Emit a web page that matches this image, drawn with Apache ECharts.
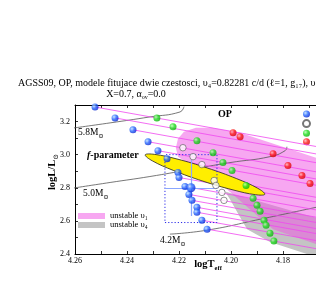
<!DOCTYPE html>
<html><head><meta charset="utf-8">
<script src="https://cdn.jsdelivr.net/npm/echarts/dist/echarts.min.js"></script>
<style>html,body{margin:0;padding:0;background:#fff;overflow:hidden}#c{width:316px;height:289px}</style>
</head><body><div id="c"></div>
<script>
// ---- data (logTeff, logL/Lsun) ----
const blueModels = [[4.2523,3.288],[4.2446,3.222],[4.2377,3.150],[4.2319,3.078],[4.2281,3.024],[4.2246,2.976],[4.2204,2.892],[4.2200,2.862],[4.2177,2.808],[4.2162,2.760],[4.2150,2.724],[4.2131,2.682],[4.2131,2.652],[4.2112,2.604],[4.2092,2.550]];
const openModels = [[4.2185,3.042],[4.2146,2.988],[4.2112,2.940],[4.2065,2.844],[4.2058,2.814],[4.2035,2.772],[4.2027,2.724]];
const greenModels = [[4.2285,3.222],[4.2223,3.168],[4.2131,3.084],[4.2069,3.012],[4.2031,2.952],[4.1996,2.904],[4.1942,2.814],[4.1915,2.736],[4.1900,2.694],[4.1888,2.658],[4.1873,2.604],[4.1865,2.574],[4.1850,2.526],[4.1835,2.478]];
const redModels = [[4.1992,3.132],[4.1965,3.108],[4.1838,3.006],[4.1781,2.934],[4.1727,2.874],[4.1696,2.826]];
const observedStar = [[4.2154,2.80]];
const errBoxT = [4.2254,4.2054];
const errBoxL = [2.59,3.00];
const errBarL = [2.63,2.97];
const pinkLines = [
 [4.2523,3.288,4.16,3.029],[4.2446,3.222,4.16,2.984],[4.2377,3.150,4.16,2.931],[4.2319,3.078,4.16,2.876],
 [4.2281,3.024,4.16,2.833],[4.2246,2.976,4.16,2.795],[4.2204,2.892,4.16,2.722],[4.2200,2.862,4.16,2.694],
 [4.2177,2.808,4.16,2.646],[4.2162,2.760,4.16,2.602],[4.2150,2.724,4.16,2.570],[4.2131,2.682,4.16,2.533],
 [4.2131,2.652,4.16,2.503],[4.2112,2.604,4.16,2.461],[4.2092,2.550,4.16,2.412]];
const track58 = [[4.262,3.158],[4.2465,3.192],[4.2312,3.228],[4.2196,3.258],[4.2181,3.290]];
const track50 = [[4.262,2.795],[4.2465,2.832],[4.2312,2.868],[4.2158,2.910],[4.2004,2.952],[4.1850,2.988],[4.1792,3.024],[4.1785,3.048]];
const track42 = [[4.2235,2.520],[4.2092,2.544],[4.1888,2.610],[4.1673,2.682],[4.1600,2.706]];
const unstableNu1 = [[4.2204,2.988],[4.2212,3.042],[4.2204,3.096],[4.2181,3.138],[4.2135,3.162],[4.2073,3.162],[4.1965,3.132],[4.1673,2.982],[4.16,2.952],[4.16,2.418],[4.1673,2.460],[4.1838,2.550],[4.1927,2.670],[4.2015,2.790],[4.2100,2.880],[4.2158,2.940]];
const unstableNu4 = [[4.2023,2.778],[4.2004,2.730],[4.1965,2.622],[4.1938,2.550],[4.1850,2.472],[4.1708,2.400],[4.16,2.400],[4.16,2.586]];
const fParamEllipse = [[4.1870,2.761],[4.1905,2.758],[4.1992,2.787],[4.2108,2.840],[4.2222,2.905],[4.2303,2.963],[4.2330,2.999],[4.2295,3.002],[4.2208,2.974],[4.2092,2.920],[4.1978,2.855],[4.1897,2.797]];

const SERIF = "'Liberation Serif','DejaVu Serif',serif";
const chart = echarts.init(document.getElementById('c'), null, {renderer:'canvas'});

function poly(name, pts, fill, stroke, z, smooth){
  return {type:'custom', name, coordinateSystem:'cartesian2d', z, silent:true, clip:true,
    itemStyle:{color:fill}, data:[pts[0]],
    renderItem:(p, api)=>({type:'polygon', shape:{points: pts.map(q=>api.coord(q)), smooth: smooth||0},
      style:{fill:fill, stroke:stroke||null, lineWidth: stroke?0.8:0}})};
}
function ball(c1,c2,c3){return new echarts.graphic.RadialGradient(0.35,0.35,0.75,[{offset:0,color:c1},{offset:0.45,color:c2},{offset:1,color:c3}]);}
function track(d){return {type:'line', data:d, smooth:true, showSymbol:false, silent:true, z:4, lineStyle:{color:'#555', width:0.8}};}
const sub = {fontFamily:SERIF, fontSize:6.5, lineHeight:7, padding:[6,0,0,0], verticalAlign:'top', fill:'#000'};
const tick = {inside:true, length:3, lineStyle:{color:'#000', width:0.8}};
const minor = {show:true, splitNumber:2, length:3, lineStyle:{color:'#000', width:0.8}};

const option = {
  animation:false,
  backgroundColor:'#fff',
  grid:{left:75, top:105, width:260, height:149, containLabel:false, outerBoundsMode:'none'},
  xAxis:[{type:'value', inverse:true, min:4.16, max:4.26, interval:0.02,
    axisLine:{lineStyle:{color:'#000', width:1}}, axisTick:tick, minorTick:minor,
    axisLabel:{margin:3, fontFamily:SERIF, fontSize:8, color:'#000', formatter:v=>v.toFixed(2)},
    splitLine:{show:false}, minorSplitLine:{show:false}},
   {type:'value', position:'top', inverse:true, min:4.16, max:4.26, interval:0.02,
    axisLine:{lineStyle:{color:'#000', width:1}}, axisTick:tick, minorTick:minor,
    axisLabel:{show:false}, splitLine:{show:false}}],
  yAxis:{type:'value', min:2.4, max:3.3, interval:0.2,
    axisLine:{lineStyle:{color:'#000', width:1}}, axisTick:tick, minorTick:minor,
    axisLabel:{showMaxLabel:false, margin:5, fontFamily:SERIF, fontSize:8, color:'#000', formatter:v=>v.toFixed(1)},
    splitLine:{show:false}},
  legend:[
    {data:['niebieskie','puste','zielone','czerwone'], orient:'vertical', left:302, top:110.5, icon:'circle',
     itemWidth:7, itemHeight:7, itemGap:1.6, formatter:()=>'', textStyle:{fontSize:6, lineHeight:7}, selectedMode:false, padding:0},
    {data:['unstable υ₁','unstable υ₄'], orient:'vertical', left:78, top:211.5, icon:'rect', padding:0,
     itemWidth:27, itemHeight:6, itemGap:0, selectedMode:false,
     textStyle:{fontFamily:SERIF, fontSize:8.5, lineHeight:7, color:'#000'}}
  ],
  series:[
    poly('unstable υ₄', unstableNu4, '#c4c4c4', null, 1),
    poly('unstable υ₁', unstableNu1, 'rgba(240,80,228,0.5)', null, 2),
    track(track58), track(track50), track(track42),
    {type:'lines', coordinateSystem:'cartesian2d', z:5, silent:true,
     data: pinkLines.map(l=>({coords:[[l[0],l[1]],[l[2],l[3]]]})),
     lineStyle:{color:'#f048f0', width:0.8, opacity:1}},
    poly('f-parameter', fParamEllipse, '#ffee00', '#222', 6, 0.4),
    {type:'lines', coordinateSystem:'cartesian2d', z:7, silent:true, polyline:true,
     data:[{coords:[[errBoxT[0],errBoxL[0]],[errBoxT[1],errBoxL[0]],[errBoxT[1],errBoxL[1]],[errBoxT[0],errBoxL[1]],[errBoxT[0],errBoxL[0]]]}],
     lineStyle:{color:'#2a2ae8', width:1, type:[1.2,2], opacity:1}},
    {type:'lines', coordinateSystem:'cartesian2d', z:7, silent:true,
     data:[{coords:[[errBoxT[0],observedStar[0][1]],[errBoxT[1],observedStar[0][1]]]},{coords:[[observedStar[0][0],errBarL[0]],[observedStar[0][0],errBarL[1]]]}],
     lineStyle:{color:'#8aa6ff', width:1.2, opacity:1}},
    {type:'scatter', name:'niebieskie', data:blueModels, symbolSize:7, z:8, itemStyle:{color:ball('#bfe0ff','#2a6cff','#0018c8')}},
    {type:'scatter', name:'puste', data:openModels, symbolSize:6.5, z:8, itemStyle:{color:'#fff', borderColor:'#555', borderWidth:0.8}},
    {type:'scatter', name:'zielone', data:greenModels, symbolSize:7, z:8, itemStyle:{color:ball('#b8ffb0','#22e022','#08a808')}},
    {type:'scatter', name:'czerwone', data:redModels, symbolSize:7, z:8, itemStyle:{color:ball('#ffb8b8','#ff1a1a','#c80000')}},
    {type:'scatter', name:'gwiazda', data:observedStar, symbolSize:9, z:9, itemStyle:{color:ball('#bfe0ff','#2a6cff','#0018c8')}}
  ],
  graphic:[
    {type:'text', x:18, y:83, style:{text:'AGSS09, OP, modele fitujace dwie czestosci, υ₄=0.82281 c/d (ℓ=1, g₁₇), υ₁', verticalAlign:'middle', font:'10px '+SERIF, fill:'#000'}},
    {type:'text', x:136, y:89, style:{text:'{n|X=0.7, α}{s|ov}{n|=0.0}', align:'center', rich:{n:{fontFamily:SERIF, fontSize:10, lineHeight:9, verticalAlign:'top', fill:'#000'}, s:{fontFamily:SERIF, fontSize:6, lineHeight:6, padding:[5,0,0,0], verticalAlign:'top', fill:'#000'}}}},
    {type:'text', x:225, y:109, style:{text:'OP', align:'center', font:'bold 10px '+SERIF, fill:'#000'}},
    {type:'text', x:87, y:150, style:{text:'{i|f}{b|-parameter}', rich:{i:{fontFamily:SERIF, fontStyle:'italic', fontWeight:'bold', fontSize:10, fill:'#000'}, b:{fontFamily:SERIF, fontWeight:'bold', fontSize:10, fill:'#000'}}}},
    {type:'text', x:78, y:127, style:{text:'{m|5.8M}{s|⊙}', rich:{m:{fontFamily:SERIF, fontSize:9.5, lineHeight:10, verticalAlign:'top', fill:'#000'}, s:sub}}},
    {type:'text', x:83, y:188, style:{text:'{m|5.0M}{s|⊙}', rich:{m:{fontFamily:SERIF, fontSize:9.5, lineHeight:10, verticalAlign:'top', fill:'#000'}, s:sub}}},
    {type:'text', x:160, y:235, style:{text:'{m|4.2M}{s|⊙}', rich:{m:{fontFamily:SERIF, fontSize:9.5, lineHeight:10, verticalAlign:'top', fill:'#000'}, s:sub}}},
    {type:'text', x:52, y:172, rotation:Math.PI/2, style:{text:'{m|logL/L}{s|⊙}', align:'center', verticalAlign:'middle', rich:{m:{fontFamily:SERIF, fontWeight:'bold', fontSize:10.5, lineHeight:11, verticalAlign:'top', fill:'#000'}, s:{fontFamily:SERIF, fontSize:7, lineHeight:7, padding:[6,0,0,0], verticalAlign:'top', fill:'#000'}}}},
    {type:'text', x:208, y:259, style:{text:'{m|logT}{s|eff}', align:'center', rich:{m:{fontFamily:SERIF, fontWeight:'bold', fontSize:10.5, lineHeight:11, verticalAlign:'top', fill:'#000'}, s:{fontFamily:SERIF, fontWeight:'bold', fontSize:6.5, lineHeight:6, padding:[6,0,0,0], verticalAlign:'top', fill:'#000'}}}}
  ]
};
chart.setOption(option);
</script></body></html>
